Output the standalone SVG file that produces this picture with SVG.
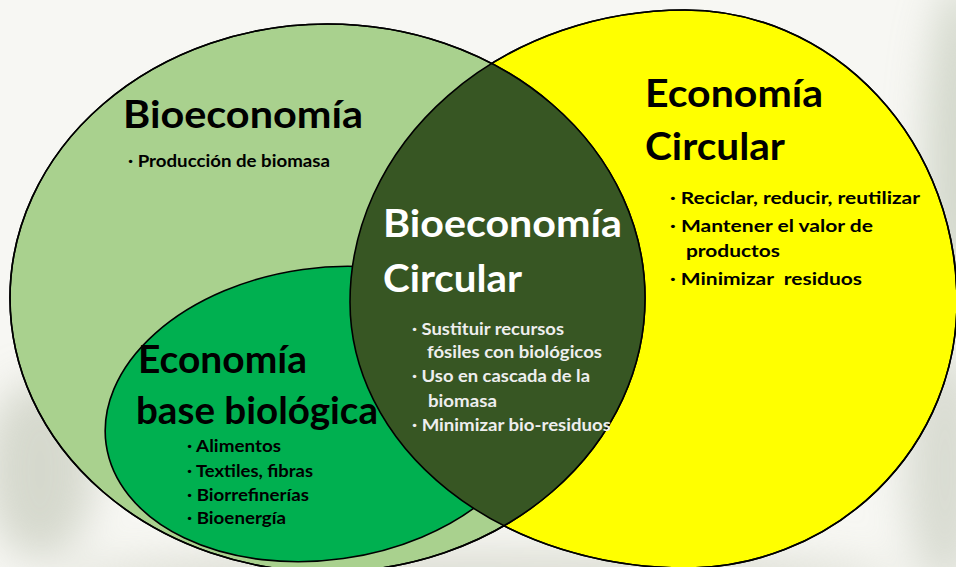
<svg xmlns="http://www.w3.org/2000/svg" width="956" height="567" viewBox="0 0 956 567">
<defs>
<style>
.outline{fill:none;stroke:#000;stroke-width:1.6}
.t{font-family:Lato,"Open Sans","Liberation Sans",sans-serif;font-weight:700}
.title{font-size:38px}
.item{font-size:17px}
.dk{fill:#000}
.wt{fill:#ffffff}
.wi{fill:#eeeeee}
</style>
<ellipse id="bioShape" cx="327.5" cy="298" rx="317.5" ry="274"/>
<path id="circShape" d="M350,302 A335,292 0 0 1 685,10 A272,292 0 0 1 957,302 A272,266 0 0 1 685,568 A335,266 0 0 1 350,302 Z"/>
<clipPath id="clipBio"><use href="#bioShape"/></clipPath>
<filter id="blur" x="-50%" y="-50%" width="200%" height="200%"><feGaussianBlur stdDeviation="20"/></filter>
</defs>

<g id="background">
<rect x="0" y="0" width="956" height="567" fill="#f7f7f3"/>
<g filter="url(#blur)" opacity="0.7">
<ellipse cx="960" cy="160" rx="35" ry="180" fill="#c4cbbb"/>
<ellipse cx="945" cy="470" rx="40" ry="120" fill="#ccd0c4"/>
<ellipse cx="40" cy="470" rx="55" ry="90" fill="#c8ccbe"/>
<ellipse cx="480" cy="580" rx="420" ry="30" fill="#d2d4c8"/>
</g>
</g>

<g id="economia-circular">
<use href="#circShape" fill="#ffff00" stroke="#000" stroke-width="1.6"/>
<text class="t title dk" x="645" y="107" textLength="178" lengthAdjust="spacingAndGlyphs">Economía</text>
<text class="t title dk" x="645" y="160" textLength="140" lengthAdjust="spacingAndGlyphs">Circular</text>
<text class="t item dk" x="670" y="204" textLength="250" lengthAdjust="spacingAndGlyphs">· Reciclar, reducir, reutilizar</text>
<text class="t item dk" x="670" y="232" textLength="203" lengthAdjust="spacingAndGlyphs">· Mantener el valor de</text>
<text class="t item dk" x="686" y="257" textLength="94" lengthAdjust="spacingAndGlyphs">productos</text>
<text class="t item dk" x="670" y="285" textLength="192" lengthAdjust="spacingAndGlyphs" xml:space="preserve">· Minimizar  residuos</text>
</g>

<g id="bioeconomia">
<use href="#bioShape" fill="#a9d18e" stroke="#000" stroke-width="1.6"/>
<text class="t title dk" x="123" y="128" textLength="240" lengthAdjust="spacingAndGlyphs">Bioeconomía</text>
<text class="t item dk" x="128" y="167" textLength="202" lengthAdjust="spacingAndGlyphs">· Producción de biomasa</text>
</g>

<g id="economia-base-biologica">
<ellipse cx="323" cy="414" rx="219" ry="146" transform="rotate(-8 323 414)" fill="#00b050" stroke="#000" stroke-width="1.6"/>
<text class="t title dk" x="138" y="373" textLength="169" lengthAdjust="spacingAndGlyphs">Economía</text>
<text class="t title dk" x="136" y="424" textLength="242" lengthAdjust="spacingAndGlyphs">base biológica</text>
<text class="t item dk" x="187" y="452" textLength="94" lengthAdjust="spacingAndGlyphs">· Alimentos</text>
<text class="t item dk" x="187" y="477" textLength="126" lengthAdjust="spacingAndGlyphs">· Textiles, fibras</text>
<text class="t item dk" x="187" y="501" textLength="122" lengthAdjust="spacingAndGlyphs">· Biorrefinerías</text>
<text class="t item dk" x="187" y="524" textLength="99" lengthAdjust="spacingAndGlyphs">· Bioenergía</text>
</g>

<g id="bioeconomia-circular">
<use href="#circShape" fill="#375623" clip-path="url(#clipBio)"/>
<use href="#bioShape" class="outline"/>
<use href="#circShape" class="outline"/>
<text class="t title wt" x="383" y="237" textLength="239" lengthAdjust="spacingAndGlyphs">Bioeconomía</text>
<text class="t title wt" x="383" y="292" textLength="139" lengthAdjust="spacingAndGlyphs">Circular</text>
<text class="t item wi" x="412" y="335" textLength="152" lengthAdjust="spacingAndGlyphs">· Sustituir recursos</text>
<text class="t item wi" x="427" y="358" textLength="175" lengthAdjust="spacingAndGlyphs">fósiles con biológicos</text>
<text class="t item wi" x="412" y="382" textLength="178" lengthAdjust="spacingAndGlyphs">· Uso en cascada de la</text>
<text class="t item wi" x="428" y="407" textLength="69" lengthAdjust="spacingAndGlyphs">biomasa</text>
<text class="t item wi" x="412" y="431" textLength="199" lengthAdjust="spacingAndGlyphs">· Minimizar bio-residuos</text>
</g>
</svg>
